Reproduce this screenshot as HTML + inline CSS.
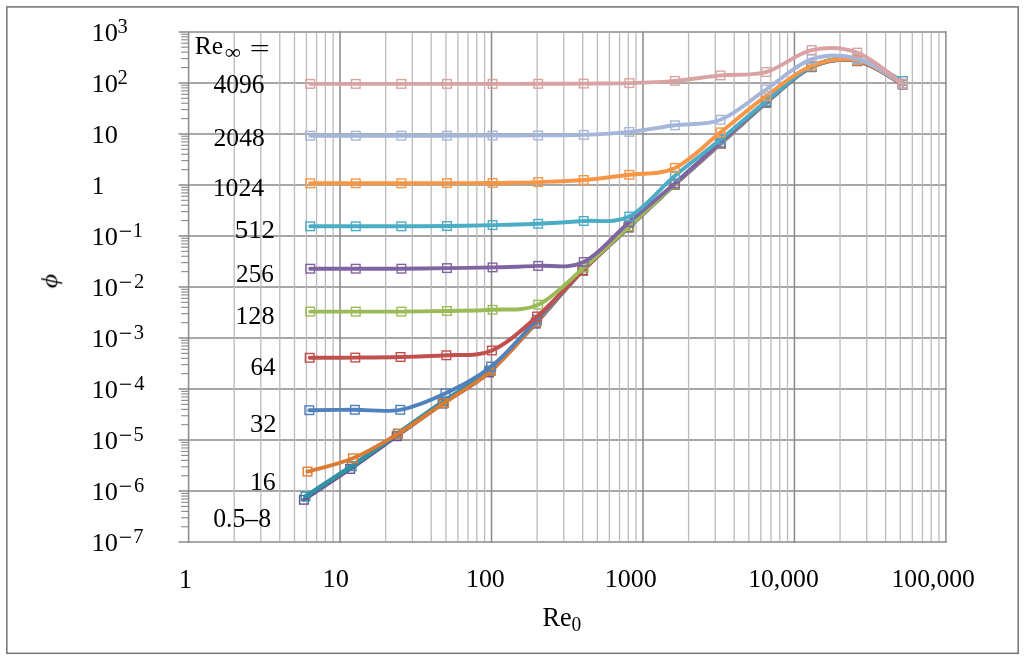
<!DOCTYPE html>
<html><head><meta charset="utf-8"><style>
html,body{margin:0;padding:0;background:#fff;}
body{width:1024px;height:661px;overflow:hidden;}
svg{display:block;}
text{font-family:"Liberation Serif",serif;font-size:100px;fill:#000;}
</style></head><body>
<svg width="1024" height="661" viewBox="0 0 1024 661">
<rect x="0" y="0" width="1024" height="661" fill="#fff"/>
<rect x="6.8" y="6.9" width="1011.4" height="646.4" fill="none" stroke="#7a7a7a" stroke-width="1.6"/>
<line x1="178.60" y1="542.10" x2="946.50" y2="542.10" stroke="#8a8a8a" stroke-width="1.5"/>
<line x1="178.60" y1="491.08" x2="946.50" y2="491.08" stroke="#8a8a8a" stroke-width="1.5"/>
<line x1="178.60" y1="440.06" x2="946.50" y2="440.06" stroke="#8a8a8a" stroke-width="1.5"/>
<line x1="178.60" y1="389.04" x2="946.50" y2="389.04" stroke="#8a8a8a" stroke-width="1.5"/>
<line x1="178.60" y1="338.02" x2="946.50" y2="338.02" stroke="#8a8a8a" stroke-width="1.5"/>
<line x1="178.60" y1="287.00" x2="946.50" y2="287.00" stroke="#8a8a8a" stroke-width="1.5"/>
<line x1="178.60" y1="235.98" x2="946.50" y2="235.98" stroke="#8a8a8a" stroke-width="1.5"/>
<line x1="178.60" y1="184.96" x2="946.50" y2="184.96" stroke="#8a8a8a" stroke-width="1.5"/>
<line x1="178.60" y1="133.94" x2="946.50" y2="133.94" stroke="#8a8a8a" stroke-width="1.5"/>
<line x1="178.60" y1="82.92" x2="946.50" y2="82.92" stroke="#8a8a8a" stroke-width="1.5"/>
<line x1="178.60" y1="31.90" x2="946.50" y2="31.90" stroke="#8a8a8a" stroke-width="1.5"/>
<line x1="234.19" y1="32.65" x2="234.19" y2="541.35" stroke="#bbbbbb" stroke-width="1.3"/>
<line x1="260.86" y1="32.65" x2="260.86" y2="541.35" stroke="#bbbbbb" stroke-width="1.3"/>
<line x1="279.79" y1="32.65" x2="279.79" y2="541.35" stroke="#bbbbbb" stroke-width="1.3"/>
<line x1="294.47" y1="32.65" x2="294.47" y2="541.35" stroke="#bbbbbb" stroke-width="1.3"/>
<line x1="306.46" y1="32.65" x2="306.46" y2="541.35" stroke="#bbbbbb" stroke-width="1.3"/>
<line x1="316.60" y1="32.65" x2="316.60" y2="541.35" stroke="#bbbbbb" stroke-width="1.3"/>
<line x1="325.38" y1="32.65" x2="325.38" y2="541.35" stroke="#bbbbbb" stroke-width="1.3"/>
<line x1="333.13" y1="32.65" x2="333.13" y2="541.35" stroke="#bbbbbb" stroke-width="1.3"/>
<line x1="385.65" y1="32.65" x2="385.65" y2="541.35" stroke="#bbbbbb" stroke-width="1.3"/>
<line x1="412.32" y1="32.65" x2="412.32" y2="541.35" stroke="#bbbbbb" stroke-width="1.3"/>
<line x1="431.25" y1="32.65" x2="431.25" y2="541.35" stroke="#bbbbbb" stroke-width="1.3"/>
<line x1="445.93" y1="32.65" x2="445.93" y2="541.35" stroke="#bbbbbb" stroke-width="1.3"/>
<line x1="457.92" y1="32.65" x2="457.92" y2="541.35" stroke="#bbbbbb" stroke-width="1.3"/>
<line x1="468.06" y1="32.65" x2="468.06" y2="541.35" stroke="#bbbbbb" stroke-width="1.3"/>
<line x1="476.84" y1="32.65" x2="476.84" y2="541.35" stroke="#bbbbbb" stroke-width="1.3"/>
<line x1="484.59" y1="32.65" x2="484.59" y2="541.35" stroke="#bbbbbb" stroke-width="1.3"/>
<line x1="537.11" y1="32.65" x2="537.11" y2="541.35" stroke="#bbbbbb" stroke-width="1.3"/>
<line x1="563.78" y1="32.65" x2="563.78" y2="541.35" stroke="#bbbbbb" stroke-width="1.3"/>
<line x1="582.71" y1="32.65" x2="582.71" y2="541.35" stroke="#bbbbbb" stroke-width="1.3"/>
<line x1="597.39" y1="32.65" x2="597.39" y2="541.35" stroke="#bbbbbb" stroke-width="1.3"/>
<line x1="609.38" y1="32.65" x2="609.38" y2="541.35" stroke="#bbbbbb" stroke-width="1.3"/>
<line x1="619.52" y1="32.65" x2="619.52" y2="541.35" stroke="#bbbbbb" stroke-width="1.3"/>
<line x1="628.30" y1="32.65" x2="628.30" y2="541.35" stroke="#bbbbbb" stroke-width="1.3"/>
<line x1="636.05" y1="32.65" x2="636.05" y2="541.35" stroke="#bbbbbb" stroke-width="1.3"/>
<line x1="688.57" y1="32.65" x2="688.57" y2="541.35" stroke="#bbbbbb" stroke-width="1.3"/>
<line x1="715.24" y1="32.65" x2="715.24" y2="541.35" stroke="#bbbbbb" stroke-width="1.3"/>
<line x1="734.17" y1="32.65" x2="734.17" y2="541.35" stroke="#bbbbbb" stroke-width="1.3"/>
<line x1="748.85" y1="32.65" x2="748.85" y2="541.35" stroke="#bbbbbb" stroke-width="1.3"/>
<line x1="760.84" y1="32.65" x2="760.84" y2="541.35" stroke="#bbbbbb" stroke-width="1.3"/>
<line x1="770.98" y1="32.65" x2="770.98" y2="541.35" stroke="#bbbbbb" stroke-width="1.3"/>
<line x1="779.76" y1="32.65" x2="779.76" y2="541.35" stroke="#bbbbbb" stroke-width="1.3"/>
<line x1="787.51" y1="32.65" x2="787.51" y2="541.35" stroke="#bbbbbb" stroke-width="1.3"/>
<line x1="840.03" y1="32.65" x2="840.03" y2="541.35" stroke="#bbbbbb" stroke-width="1.3"/>
<line x1="866.70" y1="32.65" x2="866.70" y2="541.35" stroke="#bbbbbb" stroke-width="1.3"/>
<line x1="885.63" y1="32.65" x2="885.63" y2="541.35" stroke="#bbbbbb" stroke-width="1.3"/>
<line x1="900.31" y1="32.65" x2="900.31" y2="541.35" stroke="#bbbbbb" stroke-width="1.3"/>
<line x1="912.30" y1="32.65" x2="912.30" y2="541.35" stroke="#bbbbbb" stroke-width="1.3"/>
<line x1="922.44" y1="32.65" x2="922.44" y2="541.35" stroke="#bbbbbb" stroke-width="1.3"/>
<line x1="931.22" y1="32.65" x2="931.22" y2="541.35" stroke="#bbbbbb" stroke-width="1.3"/>
<line x1="938.97" y1="32.65" x2="938.97" y2="541.35" stroke="#bbbbbb" stroke-width="1.3"/>
<line x1="181.10" y1="526.74" x2="188.60" y2="526.74" stroke="#8a8a8a" stroke-width="1.1"/>
<line x1="181.10" y1="517.76" x2="188.60" y2="517.76" stroke="#8a8a8a" stroke-width="1.1"/>
<line x1="181.10" y1="511.38" x2="188.60" y2="511.38" stroke="#8a8a8a" stroke-width="1.1"/>
<line x1="181.10" y1="506.44" x2="188.60" y2="506.44" stroke="#8a8a8a" stroke-width="1.1"/>
<line x1="181.10" y1="502.40" x2="188.60" y2="502.40" stroke="#8a8a8a" stroke-width="1.1"/>
<line x1="181.10" y1="498.98" x2="188.60" y2="498.98" stroke="#8a8a8a" stroke-width="1.1"/>
<line x1="181.10" y1="496.02" x2="188.60" y2="496.02" stroke="#8a8a8a" stroke-width="1.1"/>
<line x1="181.10" y1="493.41" x2="188.60" y2="493.41" stroke="#8a8a8a" stroke-width="1.1"/>
<line x1="181.10" y1="475.72" x2="188.60" y2="475.72" stroke="#8a8a8a" stroke-width="1.1"/>
<line x1="181.10" y1="466.74" x2="188.60" y2="466.74" stroke="#8a8a8a" stroke-width="1.1"/>
<line x1="181.10" y1="460.36" x2="188.60" y2="460.36" stroke="#8a8a8a" stroke-width="1.1"/>
<line x1="181.10" y1="455.42" x2="188.60" y2="455.42" stroke="#8a8a8a" stroke-width="1.1"/>
<line x1="181.10" y1="451.38" x2="188.60" y2="451.38" stroke="#8a8a8a" stroke-width="1.1"/>
<line x1="181.10" y1="447.96" x2="188.60" y2="447.96" stroke="#8a8a8a" stroke-width="1.1"/>
<line x1="181.10" y1="445.00" x2="188.60" y2="445.00" stroke="#8a8a8a" stroke-width="1.1"/>
<line x1="181.10" y1="442.39" x2="188.60" y2="442.39" stroke="#8a8a8a" stroke-width="1.1"/>
<line x1="181.10" y1="424.70" x2="188.60" y2="424.70" stroke="#8a8a8a" stroke-width="1.1"/>
<line x1="181.10" y1="415.72" x2="188.60" y2="415.72" stroke="#8a8a8a" stroke-width="1.1"/>
<line x1="181.10" y1="409.34" x2="188.60" y2="409.34" stroke="#8a8a8a" stroke-width="1.1"/>
<line x1="181.10" y1="404.40" x2="188.60" y2="404.40" stroke="#8a8a8a" stroke-width="1.1"/>
<line x1="181.10" y1="400.36" x2="188.60" y2="400.36" stroke="#8a8a8a" stroke-width="1.1"/>
<line x1="181.10" y1="396.94" x2="188.60" y2="396.94" stroke="#8a8a8a" stroke-width="1.1"/>
<line x1="181.10" y1="393.98" x2="188.60" y2="393.98" stroke="#8a8a8a" stroke-width="1.1"/>
<line x1="181.10" y1="391.37" x2="188.60" y2="391.37" stroke="#8a8a8a" stroke-width="1.1"/>
<line x1="181.10" y1="373.68" x2="188.60" y2="373.68" stroke="#8a8a8a" stroke-width="1.1"/>
<line x1="181.10" y1="364.70" x2="188.60" y2="364.70" stroke="#8a8a8a" stroke-width="1.1"/>
<line x1="181.10" y1="358.32" x2="188.60" y2="358.32" stroke="#8a8a8a" stroke-width="1.1"/>
<line x1="181.10" y1="353.38" x2="188.60" y2="353.38" stroke="#8a8a8a" stroke-width="1.1"/>
<line x1="181.10" y1="349.34" x2="188.60" y2="349.34" stroke="#8a8a8a" stroke-width="1.1"/>
<line x1="181.10" y1="345.92" x2="188.60" y2="345.92" stroke="#8a8a8a" stroke-width="1.1"/>
<line x1="181.10" y1="342.96" x2="188.60" y2="342.96" stroke="#8a8a8a" stroke-width="1.1"/>
<line x1="181.10" y1="340.35" x2="188.60" y2="340.35" stroke="#8a8a8a" stroke-width="1.1"/>
<line x1="181.10" y1="322.66" x2="188.60" y2="322.66" stroke="#8a8a8a" stroke-width="1.1"/>
<line x1="181.10" y1="313.68" x2="188.60" y2="313.68" stroke="#8a8a8a" stroke-width="1.1"/>
<line x1="181.10" y1="307.30" x2="188.60" y2="307.30" stroke="#8a8a8a" stroke-width="1.1"/>
<line x1="181.10" y1="302.36" x2="188.60" y2="302.36" stroke="#8a8a8a" stroke-width="1.1"/>
<line x1="181.10" y1="298.32" x2="188.60" y2="298.32" stroke="#8a8a8a" stroke-width="1.1"/>
<line x1="181.10" y1="294.90" x2="188.60" y2="294.90" stroke="#8a8a8a" stroke-width="1.1"/>
<line x1="181.10" y1="291.94" x2="188.60" y2="291.94" stroke="#8a8a8a" stroke-width="1.1"/>
<line x1="181.10" y1="289.33" x2="188.60" y2="289.33" stroke="#8a8a8a" stroke-width="1.1"/>
<line x1="181.10" y1="271.64" x2="188.60" y2="271.64" stroke="#8a8a8a" stroke-width="1.1"/>
<line x1="181.10" y1="262.66" x2="188.60" y2="262.66" stroke="#8a8a8a" stroke-width="1.1"/>
<line x1="181.10" y1="256.28" x2="188.60" y2="256.28" stroke="#8a8a8a" stroke-width="1.1"/>
<line x1="181.10" y1="251.34" x2="188.60" y2="251.34" stroke="#8a8a8a" stroke-width="1.1"/>
<line x1="181.10" y1="247.30" x2="188.60" y2="247.30" stroke="#8a8a8a" stroke-width="1.1"/>
<line x1="181.10" y1="243.88" x2="188.60" y2="243.88" stroke="#8a8a8a" stroke-width="1.1"/>
<line x1="181.10" y1="240.92" x2="188.60" y2="240.92" stroke="#8a8a8a" stroke-width="1.1"/>
<line x1="181.10" y1="238.31" x2="188.60" y2="238.31" stroke="#8a8a8a" stroke-width="1.1"/>
<line x1="181.10" y1="220.62" x2="188.60" y2="220.62" stroke="#8a8a8a" stroke-width="1.1"/>
<line x1="181.10" y1="211.64" x2="188.60" y2="211.64" stroke="#8a8a8a" stroke-width="1.1"/>
<line x1="181.10" y1="205.26" x2="188.60" y2="205.26" stroke="#8a8a8a" stroke-width="1.1"/>
<line x1="181.10" y1="200.32" x2="188.60" y2="200.32" stroke="#8a8a8a" stroke-width="1.1"/>
<line x1="181.10" y1="196.28" x2="188.60" y2="196.28" stroke="#8a8a8a" stroke-width="1.1"/>
<line x1="181.10" y1="192.86" x2="188.60" y2="192.86" stroke="#8a8a8a" stroke-width="1.1"/>
<line x1="181.10" y1="189.90" x2="188.60" y2="189.90" stroke="#8a8a8a" stroke-width="1.1"/>
<line x1="181.10" y1="187.29" x2="188.60" y2="187.29" stroke="#8a8a8a" stroke-width="1.1"/>
<line x1="181.10" y1="169.60" x2="188.60" y2="169.60" stroke="#8a8a8a" stroke-width="1.1"/>
<line x1="181.10" y1="160.62" x2="188.60" y2="160.62" stroke="#8a8a8a" stroke-width="1.1"/>
<line x1="181.10" y1="154.24" x2="188.60" y2="154.24" stroke="#8a8a8a" stroke-width="1.1"/>
<line x1="181.10" y1="149.30" x2="188.60" y2="149.30" stroke="#8a8a8a" stroke-width="1.1"/>
<line x1="181.10" y1="145.26" x2="188.60" y2="145.26" stroke="#8a8a8a" stroke-width="1.1"/>
<line x1="181.10" y1="141.84" x2="188.60" y2="141.84" stroke="#8a8a8a" stroke-width="1.1"/>
<line x1="181.10" y1="138.88" x2="188.60" y2="138.88" stroke="#8a8a8a" stroke-width="1.1"/>
<line x1="181.10" y1="136.27" x2="188.60" y2="136.27" stroke="#8a8a8a" stroke-width="1.1"/>
<line x1="181.10" y1="118.58" x2="188.60" y2="118.58" stroke="#8a8a8a" stroke-width="1.1"/>
<line x1="181.10" y1="109.60" x2="188.60" y2="109.60" stroke="#8a8a8a" stroke-width="1.1"/>
<line x1="181.10" y1="103.22" x2="188.60" y2="103.22" stroke="#8a8a8a" stroke-width="1.1"/>
<line x1="181.10" y1="98.28" x2="188.60" y2="98.28" stroke="#8a8a8a" stroke-width="1.1"/>
<line x1="181.10" y1="94.24" x2="188.60" y2="94.24" stroke="#8a8a8a" stroke-width="1.1"/>
<line x1="181.10" y1="90.82" x2="188.60" y2="90.82" stroke="#8a8a8a" stroke-width="1.1"/>
<line x1="181.10" y1="87.86" x2="188.60" y2="87.86" stroke="#8a8a8a" stroke-width="1.1"/>
<line x1="181.10" y1="85.25" x2="188.60" y2="85.25" stroke="#8a8a8a" stroke-width="1.1"/>
<line x1="181.10" y1="67.56" x2="188.60" y2="67.56" stroke="#8a8a8a" stroke-width="1.1"/>
<line x1="181.10" y1="58.58" x2="188.60" y2="58.58" stroke="#8a8a8a" stroke-width="1.1"/>
<line x1="181.10" y1="52.20" x2="188.60" y2="52.20" stroke="#8a8a8a" stroke-width="1.1"/>
<line x1="181.10" y1="47.26" x2="188.60" y2="47.26" stroke="#8a8a8a" stroke-width="1.1"/>
<line x1="181.10" y1="43.22" x2="188.60" y2="43.22" stroke="#8a8a8a" stroke-width="1.1"/>
<line x1="181.10" y1="39.80" x2="188.60" y2="39.80" stroke="#8a8a8a" stroke-width="1.1"/>
<line x1="181.10" y1="36.84" x2="188.60" y2="36.84" stroke="#8a8a8a" stroke-width="1.1"/>
<line x1="181.10" y1="34.23" x2="188.60" y2="34.23" stroke="#8a8a8a" stroke-width="1.1"/>
<line x1="188.60" y1="31.20" x2="188.60" y2="542.80" stroke="#8a8a8a" stroke-width="1.5"/>
<line x1="340.06" y1="31.20" x2="340.06" y2="542.80" stroke="#8a8a8a" stroke-width="1.5"/>
<line x1="491.52" y1="31.20" x2="491.52" y2="542.80" stroke="#8a8a8a" stroke-width="1.5"/>
<line x1="642.98" y1="31.20" x2="642.98" y2="542.80" stroke="#8a8a8a" stroke-width="1.5"/>
<line x1="794.44" y1="31.20" x2="794.44" y2="542.80" stroke="#8a8a8a" stroke-width="1.5"/>
<line x1="945.90" y1="31.20" x2="945.90" y2="542.80" stroke="#8a8a8a" stroke-width="1.5"/>
<path d="M303.90,499.80 C311.61,494.67 334.73,479.60 350.19,469.00 C365.65,458.40 381.27,447.10 396.68,436.20 C412.09,425.30 427.29,414.23 442.67,403.60 C458.05,392.97 473.46,385.73 488.96,372.40 C504.46,359.07 520.05,340.50 535.65,323.60 C551.25,306.70 567.03,287.00 582.54,271.00 C598.05,255.00 613.38,241.97 628.73,227.60 C644.08,213.23 659.32,198.75 674.62,184.80 C689.92,170.85 705.26,157.53 720.51,143.90 C735.76,130.27 750.90,115.78 766.10,103.00 C781.30,90.22 796.49,74.17 811.69,67.20 C826.89,60.23 842.08,58.30 857.28,61.20 C872.48,64.10 895.27,80.70 902.87,84.60" fill="none" stroke="#6a4f8e" stroke-width="3.9" stroke-linecap="round" stroke-linejoin="round"/>
<g fill="none" stroke="#6a4f8e" stroke-width="1.4"><rect x="299.60" y="495.50" width="8.6" height="8.6"/><rect x="345.89" y="464.70" width="8.6" height="8.6"/><rect x="392.38" y="431.90" width="8.6" height="8.6"/><rect x="438.37" y="399.30" width="8.6" height="8.6"/><rect x="484.66" y="368.10" width="8.6" height="8.6"/><rect x="531.35" y="319.30" width="8.6" height="8.6"/><rect x="578.24" y="266.70" width="8.6" height="8.6"/><rect x="624.43" y="223.30" width="8.6" height="8.6"/><rect x="670.32" y="180.50" width="8.6" height="8.6"/><rect x="716.21" y="139.60" width="8.6" height="8.6"/><rect x="761.80" y="98.70" width="8.6" height="8.6"/><rect x="807.39" y="62.90" width="8.6" height="8.6"/><rect x="852.98" y="56.90" width="8.6" height="8.6"/><rect x="898.57" y="80.30" width="8.6" height="8.6"/></g>
<path d="M305.50,496.40 C313.20,491.37 336.29,476.67 351.69,466.20 C367.09,455.73 382.57,444.40 397.88,433.60 C413.19,422.80 428.29,411.90 443.57,401.40 C458.85,390.90 474.16,383.77 489.56,370.60 C504.96,357.43 520.45,339.13 535.95,322.40 C551.45,305.67 567.08,286.10 582.54,270.20 C598.00,254.30 613.38,241.33 628.73,227.00 C644.08,212.67 659.32,198.15 674.62,184.20 C689.92,170.25 705.26,156.93 720.51,143.30 C735.76,129.67 750.90,115.18 766.10,102.40 C781.30,89.62 796.49,73.57 811.69,66.60 C826.89,59.63 842.08,57.70 857.28,60.60 C872.48,63.50 895.27,80.10 902.87,84.00" fill="none" stroke="#3391a6" stroke-width="4.6" stroke-linecap="round" stroke-linejoin="round"/>
<g fill="none" stroke="#3391a6" stroke-width="1.4"><rect x="301.20" y="492.10" width="8.6" height="8.6"/><rect x="347.39" y="461.90" width="8.6" height="8.6"/><rect x="393.58" y="429.30" width="8.6" height="8.6"/><rect x="439.27" y="397.10" width="8.6" height="8.6"/><rect x="485.26" y="366.30" width="8.6" height="8.6"/><rect x="531.65" y="318.10" width="8.6" height="8.6"/><rect x="578.24" y="265.90" width="8.6" height="8.6"/><rect x="624.43" y="222.70" width="8.6" height="8.6"/><rect x="670.32" y="179.90" width="8.6" height="8.6"/><rect x="716.21" y="139.00" width="8.6" height="8.6"/><rect x="761.80" y="98.10" width="8.6" height="8.6"/><rect x="807.39" y="62.30" width="8.6" height="8.6"/><rect x="852.98" y="56.30" width="8.6" height="8.6"/><rect x="898.57" y="79.70" width="8.6" height="8.6"/></g>
<path d="M307.50,471.60 C315.08,469.38 337.91,464.58 352.99,458.30 C368.07,452.02 382.82,443.12 397.98,433.90 C413.14,424.68 428.47,413.50 443.97,403.00 C459.47,392.50 475.53,384.42 490.96,370.90 C506.39,357.38 521.25,338.65 536.55,321.90 C551.85,305.15 567.38,286.22 582.74,270.40 C598.10,254.58 613.42,241.35 628.73,227.00 C644.04,212.65 659.32,198.23 674.62,184.30 C689.92,170.37 705.26,157.05 720.51,143.40 C735.76,129.75 750.90,115.20 766.10,102.40 C781.30,89.60 796.49,73.57 811.69,66.60 C826.89,59.63 842.08,57.70 857.28,60.60 C872.48,63.50 895.27,80.10 902.87,84.00" fill="none" stroke="#dc7b33" stroke-width="3.9" stroke-linecap="round" stroke-linejoin="round"/>
<g fill="none" stroke="#dc7b33" stroke-width="1.4"><rect x="303.20" y="467.30" width="8.6" height="8.6"/><rect x="348.69" y="454.00" width="8.6" height="8.6"/><rect x="393.68" y="429.60" width="8.6" height="8.6"/><rect x="439.67" y="398.70" width="8.6" height="8.6"/><rect x="486.66" y="366.60" width="8.6" height="8.6"/><rect x="532.25" y="317.60" width="8.6" height="8.6"/><rect x="578.44" y="266.10" width="8.6" height="8.6"/><rect x="624.43" y="222.70" width="8.6" height="8.6"/><rect x="670.32" y="180.00" width="8.6" height="8.6"/><rect x="716.21" y="139.10" width="8.6" height="8.6"/><rect x="761.80" y="98.10" width="8.6" height="8.6"/><rect x="807.39" y="62.30" width="8.6" height="8.6"/><rect x="852.98" y="56.30" width="8.6" height="8.6"/><rect x="898.57" y="79.70" width="8.6" height="8.6"/></g>
<path d="M309.30,410.20 C316.90,410.13 339.74,409.87 354.89,409.80 C370.04,409.73 385.08,412.55 400.18,409.80 C415.28,407.05 430.31,400.50 445.47,393.30 C460.63,386.10 475.91,378.87 491.16,366.60 C506.41,354.33 521.65,335.73 536.95,319.70 C552.25,303.67 567.63,285.85 582.94,270.40 C598.25,254.95 613.53,241.35 628.83,227.00 C644.13,212.65 659.44,198.23 674.72,184.30 C690.00,170.37 705.28,157.05 720.51,143.40 C735.74,129.75 750.90,115.20 766.10,102.40 C781.30,89.60 796.49,73.57 811.69,66.60 C826.89,59.63 842.08,57.70 857.28,60.60 C872.48,63.50 895.27,80.10 902.87,84.00" fill="none" stroke="#4f81bd" stroke-width="3.9" stroke-linecap="round" stroke-linejoin="round"/>
<g fill="none" stroke="#4f81bd" stroke-width="1.4"><rect x="305.00" y="405.90" width="8.6" height="8.6"/><rect x="350.59" y="405.50" width="8.6" height="8.6"/><rect x="395.88" y="405.50" width="8.6" height="8.6"/><rect x="441.17" y="389.00" width="8.6" height="8.6"/><rect x="486.86" y="362.30" width="8.6" height="8.6"/><rect x="532.65" y="315.40" width="8.6" height="8.6"/><rect x="578.64" y="266.10" width="8.6" height="8.6"/><rect x="624.53" y="222.70" width="8.6" height="8.6"/><rect x="670.42" y="180.00" width="8.6" height="8.6"/><rect x="716.21" y="139.10" width="8.6" height="8.6"/><rect x="761.80" y="98.10" width="8.6" height="8.6"/><rect x="807.39" y="62.30" width="8.6" height="8.6"/><rect x="852.98" y="56.30" width="8.6" height="8.6"/><rect x="898.57" y="79.70" width="8.6" height="8.6"/></g>
<path d="M309.70,357.80 C317.30,357.77 340.14,357.73 355.29,357.60 C370.44,357.47 385.40,357.38 400.58,357.00 C415.76,356.62 431.14,356.38 446.37,355.30 C461.60,354.22 476.85,356.97 491.96,350.50 C507.07,344.03 521.89,329.82 537.05,316.50 C552.21,303.18 567.63,285.55 582.94,270.60 C598.25,255.65 613.60,241.18 628.93,226.80 C644.26,212.42 659.66,198.20 674.92,184.30 C690.18,170.40 705.31,157.05 720.51,143.40 C735.71,129.75 750.90,115.20 766.10,102.40 C781.30,89.60 796.49,73.57 811.69,66.60 C826.89,59.63 842.08,57.70 857.28,60.60 C872.48,63.50 895.27,80.10 902.87,84.00" fill="none" stroke="#c0504d" stroke-width="3.9" stroke-linecap="round" stroke-linejoin="round"/>
<g fill="none" stroke="#c0504d" stroke-width="1.4"><rect x="305.40" y="353.50" width="8.6" height="8.6"/><rect x="350.99" y="353.30" width="8.6" height="8.6"/><rect x="396.28" y="352.70" width="8.6" height="8.6"/><rect x="442.07" y="351.00" width="8.6" height="8.6"/><rect x="487.66" y="346.20" width="8.6" height="8.6"/><rect x="532.75" y="312.20" width="8.6" height="8.6"/><rect x="578.64" y="266.30" width="8.6" height="8.6"/><rect x="624.63" y="222.50" width="8.6" height="8.6"/><rect x="670.62" y="180.00" width="8.6" height="8.6"/><rect x="716.21" y="139.10" width="8.6" height="8.6"/><rect x="761.80" y="98.10" width="8.6" height="8.6"/><rect x="807.39" y="62.30" width="8.6" height="8.6"/><rect x="852.98" y="56.30" width="8.6" height="8.6"/><rect x="898.57" y="79.70" width="8.6" height="8.6"/></g>
<path d="M310.20,311.60 C317.80,311.60 340.59,311.60 355.79,311.60 C370.99,311.60 386.18,311.70 401.38,311.60 C416.58,311.50 431.77,311.30 446.97,311.00 C462.17,310.70 477.36,310.85 492.56,309.80 C507.76,308.75 522.95,311.70 538.15,304.70 C553.35,297.70 568.54,280.88 583.74,267.80 C598.94,254.72 614.13,240.13 629.33,226.20 C644.53,212.27 659.72,198.00 674.92,184.20 C690.12,170.40 705.31,157.03 720.51,143.40 C735.71,129.77 750.90,115.20 766.10,102.40 C781.30,89.60 796.49,73.57 811.69,66.60 C826.89,59.63 842.08,57.70 857.28,60.60 C872.48,63.50 895.27,80.10 902.87,84.00" fill="none" stroke="#9bbb59" stroke-width="3.9" stroke-linecap="round" stroke-linejoin="round"/>
<g fill="none" stroke="#9bbb59" stroke-width="1.4"><rect x="305.90" y="307.30" width="8.6" height="8.6"/><rect x="351.49" y="307.30" width="8.6" height="8.6"/><rect x="397.08" y="307.30" width="8.6" height="8.6"/><rect x="442.67" y="306.70" width="8.6" height="8.6"/><rect x="488.26" y="305.50" width="8.6" height="8.6"/><rect x="533.85" y="300.40" width="8.6" height="8.6"/><rect x="579.44" y="263.50" width="8.6" height="8.6"/><rect x="625.03" y="221.90" width="8.6" height="8.6"/><rect x="670.62" y="179.90" width="8.6" height="8.6"/><rect x="716.21" y="139.10" width="8.6" height="8.6"/><rect x="761.80" y="98.10" width="8.6" height="8.6"/><rect x="807.39" y="62.30" width="8.6" height="8.6"/><rect x="852.98" y="56.30" width="8.6" height="8.6"/><rect x="898.57" y="79.70" width="8.6" height="8.6"/></g>
<path d="M310.20,268.70 C317.80,268.70 340.59,268.70 355.79,268.70 C370.99,268.70 386.18,268.80 401.38,268.70 C416.58,268.60 431.77,268.32 446.97,268.10 C462.17,267.88 477.36,267.77 492.56,267.40 C507.76,267.03 522.95,266.80 538.15,265.90 C553.35,265.00 568.54,269.32 583.74,262.00 C598.94,254.68 614.13,235.10 629.33,222.00 C644.53,208.90 659.72,196.62 674.92,183.40 C690.12,170.18 705.31,156.23 720.51,142.70 C735.71,129.17 750.90,114.88 766.10,102.20 C781.30,89.52 796.49,73.53 811.69,66.60 C826.89,59.67 842.08,57.70 857.28,60.60 C872.48,63.50 895.27,80.10 902.87,84.00" fill="none" stroke="#8064a2" stroke-width="3.9" stroke-linecap="round" stroke-linejoin="round"/>
<g fill="none" stroke="#8064a2" stroke-width="1.4"><rect x="305.90" y="264.40" width="8.6" height="8.6"/><rect x="351.49" y="264.40" width="8.6" height="8.6"/><rect x="397.08" y="264.40" width="8.6" height="8.6"/><rect x="442.67" y="263.80" width="8.6" height="8.6"/><rect x="488.26" y="263.10" width="8.6" height="8.6"/><rect x="533.85" y="261.60" width="8.6" height="8.6"/><rect x="579.44" y="257.70" width="8.6" height="8.6"/><rect x="625.03" y="217.70" width="8.6" height="8.6"/><rect x="670.62" y="179.10" width="8.6" height="8.6"/><rect x="716.21" y="138.40" width="8.6" height="8.6"/><rect x="761.80" y="97.90" width="8.6" height="8.6"/><rect x="807.39" y="62.30" width="8.6" height="8.6"/><rect x="852.98" y="56.30" width="8.6" height="8.6"/><rect x="898.57" y="79.70" width="8.6" height="8.6"/></g>
<path d="M310.20,226.30 C317.80,226.30 340.59,226.30 355.79,226.30 C370.99,226.30 386.18,226.35 401.38,226.30 C416.58,226.25 431.77,226.20 446.97,226.00 C462.17,225.80 477.36,225.47 492.56,225.10 C507.76,224.73 522.95,224.48 538.15,223.80 C553.35,223.12 568.54,222.22 583.74,221.00 C598.94,219.78 614.13,224.03 629.33,216.50 C644.53,208.97 659.72,188.62 674.92,175.80 C690.12,162.98 705.31,152.03 720.51,139.60 C735.71,127.17 750.90,113.43 766.10,101.20 C781.30,88.97 796.49,73.20 811.69,66.20 C826.89,59.20 842.08,56.73 857.28,59.20 C872.48,61.67 895.27,77.37 902.87,81.00" fill="none" stroke="#4bacc6" stroke-width="3.9" stroke-linecap="round" stroke-linejoin="round"/>
<g fill="none" stroke="#4bacc6" stroke-width="1.4"><rect x="305.90" y="222.00" width="8.6" height="8.6"/><rect x="351.49" y="222.00" width="8.6" height="8.6"/><rect x="397.08" y="222.00" width="8.6" height="8.6"/><rect x="442.67" y="221.70" width="8.6" height="8.6"/><rect x="488.26" y="220.80" width="8.6" height="8.6"/><rect x="533.85" y="219.50" width="8.6" height="8.6"/><rect x="579.44" y="216.70" width="8.6" height="8.6"/><rect x="625.03" y="212.20" width="8.6" height="8.6"/><rect x="670.62" y="171.50" width="8.6" height="8.6"/><rect x="716.21" y="135.30" width="8.6" height="8.6"/><rect x="761.80" y="96.90" width="8.6" height="8.6"/><rect x="807.39" y="61.90" width="8.6" height="8.6"/><rect x="852.98" y="54.90" width="8.6" height="8.6"/><rect x="898.57" y="76.70" width="8.6" height="8.6"/></g>
<path d="M310.20,183.30 C317.80,183.30 340.59,183.30 355.79,183.30 C370.99,183.30 386.18,183.33 401.38,183.30 C416.58,183.27 431.77,183.15 446.97,183.10 C462.17,183.05 477.36,183.17 492.56,183.00 C507.76,182.83 522.95,182.60 538.15,182.10 C553.35,181.60 568.54,181.22 583.74,180.00 C598.94,178.78 614.13,176.82 629.33,174.80 C644.53,172.78 659.72,174.97 674.92,167.90 C690.12,160.83 705.31,144.38 720.51,132.40 C735.71,120.42 750.90,107.10 766.10,96.00 C781.30,84.90 796.49,71.77 811.69,65.80 C826.89,59.83 842.08,57.17 857.28,60.20 C872.48,63.23 895.27,80.03 902.87,84.00" fill="none" stroke="#f79646" stroke-width="3.9" stroke-linecap="round" stroke-linejoin="round"/>
<g fill="none" stroke="#f79646" stroke-width="1.4"><rect x="305.90" y="179.00" width="8.6" height="8.6"/><rect x="351.49" y="179.00" width="8.6" height="8.6"/><rect x="397.08" y="179.00" width="8.6" height="8.6"/><rect x="442.67" y="178.80" width="8.6" height="8.6"/><rect x="488.26" y="178.70" width="8.6" height="8.6"/><rect x="533.85" y="177.80" width="8.6" height="8.6"/><rect x="579.44" y="175.70" width="8.6" height="8.6"/><rect x="625.03" y="170.50" width="8.6" height="8.6"/><rect x="670.62" y="163.60" width="8.6" height="8.6"/><rect x="716.21" y="128.10" width="8.6" height="8.6"/><rect x="761.80" y="91.70" width="8.6" height="8.6"/><rect x="807.39" y="61.50" width="8.6" height="8.6"/><rect x="852.98" y="55.90" width="8.6" height="8.6"/><rect x="898.57" y="79.70" width="8.6" height="8.6"/></g>
<path d="M310.20,135.70 C317.80,135.70 340.59,135.70 355.79,135.70 C370.99,135.70 386.18,135.70 401.38,135.70 C416.58,135.70 431.77,135.72 446.97,135.70 C462.17,135.68 477.36,135.65 492.56,135.60 C507.76,135.55 522.95,135.52 538.15,135.40 C553.35,135.28 568.54,135.48 583.74,134.90 C598.94,134.32 614.13,133.50 629.33,131.90 C644.53,130.30 659.72,127.32 674.92,125.30 C690.12,123.28 705.31,125.77 720.51,119.80 C735.71,113.83 750.90,99.60 766.10,89.50 C781.30,79.40 796.49,64.35 811.69,59.20 C826.89,54.05 842.08,54.52 857.28,58.60 C872.48,62.68 895.27,79.52 902.87,83.70" fill="none" stroke="#a6b6da" stroke-width="3.9" stroke-linecap="round" stroke-linejoin="round"/>
<g fill="none" stroke="#a6b6da" stroke-width="1.4"><rect x="305.90" y="131.40" width="8.6" height="8.6"/><rect x="351.49" y="131.40" width="8.6" height="8.6"/><rect x="397.08" y="131.40" width="8.6" height="8.6"/><rect x="442.67" y="131.40" width="8.6" height="8.6"/><rect x="488.26" y="131.30" width="8.6" height="8.6"/><rect x="533.85" y="131.10" width="8.6" height="8.6"/><rect x="579.44" y="130.60" width="8.6" height="8.6"/><rect x="625.03" y="127.60" width="8.6" height="8.6"/><rect x="670.62" y="121.00" width="8.6" height="8.6"/><rect x="716.21" y="115.50" width="8.6" height="8.6"/><rect x="761.80" y="85.20" width="8.6" height="8.6"/><rect x="807.39" y="54.90" width="8.6" height="8.6"/><rect x="852.98" y="54.30" width="8.6" height="8.6"/><rect x="898.57" y="79.40" width="8.6" height="8.6"/></g>
<path d="M310.20,83.90 C317.80,83.90 340.59,83.90 355.79,83.90 C370.99,83.90 386.18,83.90 401.38,83.90 C416.58,83.90 431.77,83.90 446.97,83.90 C462.17,83.90 477.36,83.92 492.56,83.90 C507.76,83.88 522.95,83.85 538.15,83.80 C553.35,83.75 568.54,83.72 583.74,83.60 C598.94,83.48 614.13,83.55 629.33,83.10 C644.53,82.65 659.72,82.18 674.92,80.90 C690.12,79.62 705.31,76.88 720.51,75.40 C735.71,73.92 750.90,76.22 766.10,72.00 C781.30,67.78 796.49,53.33 811.69,50.10 C826.89,46.87 842.08,46.98 857.28,52.60 C872.48,58.22 895.27,78.60 902.87,83.80" fill="none" stroke="#d9a3a3" stroke-width="3.9" stroke-linecap="round" stroke-linejoin="round"/>
<g fill="none" stroke="#d9a3a3" stroke-width="1.4"><rect x="305.90" y="79.60" width="8.6" height="8.6"/><rect x="351.49" y="79.60" width="8.6" height="8.6"/><rect x="397.08" y="79.60" width="8.6" height="8.6"/><rect x="442.67" y="79.60" width="8.6" height="8.6"/><rect x="488.26" y="79.60" width="8.6" height="8.6"/><rect x="533.85" y="79.50" width="8.6" height="8.6"/><rect x="579.44" y="79.30" width="8.6" height="8.6"/><rect x="625.03" y="78.80" width="8.6" height="8.6"/><rect x="670.62" y="76.60" width="8.6" height="8.6"/><rect x="716.21" y="71.10" width="8.6" height="8.6"/><rect x="761.80" y="67.70" width="8.6" height="8.6"/><rect x="807.39" y="45.80" width="8.6" height="8.6"/><rect x="852.98" y="48.30" width="8.6" height="8.6"/><rect x="898.57" y="79.50" width="8.6" height="8.6"/></g>
<g opacity="0.999">
<text transform="matrix(0.2632,0,0,0.2544,91.53,41.09)">10</text>
<text transform="matrix(0.2050,0,0,0.2050,117.38,32.62)">3</text>
<text transform="matrix(0.2632,0,0,0.2544,91.53,92.11)">10</text>
<text transform="matrix(0.2050,0,0,0.2050,117.58,83.65)">2</text>
<text transform="matrix(0.2632,0,0,0.2544,91.53,143.13)">10</text>
<text transform="matrix(0.2486,0,0,0.2576,91.66,194.46)">1</text>
<text transform="matrix(0.2632,0,0,0.2544,91.53,245.17)">10</text>
<text transform="matrix(0.2404,0,0,0.2400,118.70,239.32)">−</text>
<text transform="matrix(0.2050,0,0,0.2050,132.86,236.91)">1</text>
<text transform="matrix(0.2632,0,0,0.2544,91.53,296.19)">10</text>
<text transform="matrix(0.2404,0,0,0.2400,118.70,290.34)">−</text>
<text transform="matrix(0.2050,0,0,0.2050,133.88,287.72)">2</text>
<text transform="matrix(0.2632,0,0,0.2544,91.53,347.21)">10</text>
<text transform="matrix(0.2404,0,0,0.2400,118.70,341.36)">−</text>
<text transform="matrix(0.2050,0,0,0.2050,133.68,338.74)">3</text>
<text transform="matrix(0.2632,0,0,0.2544,91.53,398.23)">10</text>
<text transform="matrix(0.2404,0,0,0.2400,118.70,392.38)">−</text>
<text transform="matrix(0.2050,0,0,0.2050,134.29,389.76)">4</text>
<text transform="matrix(0.2632,0,0,0.2544,91.53,449.25)">10</text>
<text transform="matrix(0.2404,0,0,0.2400,118.70,443.40)">−</text>
<text transform="matrix(0.2050,0,0,0.2050,133.47,440.78)">5</text>
<text transform="matrix(0.2632,0,0,0.2544,91.53,500.27)">10</text>
<text transform="matrix(0.2404,0,0,0.2400,118.70,494.42)">−</text>
<text transform="matrix(0.2050,0,0,0.2050,133.88,491.80)">6</text>
<text transform="matrix(0.2632,0,0,0.2544,91.53,551.29)">10</text>
<text transform="matrix(0.2404,0,0,0.2400,118.70,545.44)">−</text>
<text transform="matrix(0.2050,0,0,0.2050,133.27,542.83)">7</text>
<text transform="matrix(0.2571,0,0,0.2636,178.99,587.50)">1</text>
<text transform="matrix(0.2644,0,0,0.2574,322.52,586.99)">10</text>
<text transform="matrix(0.2591,0,0,0.2574,465.97,586.99)">100</text>
<text transform="matrix(0.2604,0,0,0.2588,604.76,587.08)">1000</text>
<text transform="matrix(0.2569,0,0,0.2559,748.19,586.99)">10,000</text>
<text transform="matrix(0.2567,0,0,0.2588,891.49,587.18)">100,000</text>
<text transform="matrix(0.2544,0,0,0.2627,213.59,92.97)">4096</text>
<text transform="matrix(0.2557,0,0,0.2582,213.58,145.98)">2048</text>
<text transform="matrix(0.2577,0,0,0.2559,212.68,196.09)">1024</text>
<text transform="matrix(0.2696,0,0,0.2597,234.68,238.34)">512</text>
<text transform="matrix(0.2524,0,0,0.2597,236.09,282.28)">256</text>
<text transform="matrix(0.2620,0,0,0.2603,235.24,324.28)">128</text>
<text transform="matrix(0.2500,0,0,0.2612,250.50,374.78)">64</text>
<text transform="matrix(0.2663,0,0,0.2606,249.97,432.34)">32</text>
<text transform="matrix(0.2580,0,0,0.2588,249.98,489.78)">16</text>
<text transform="matrix(0.2576,0,0,0.2642,213.17,527.07)">0.5–8</text>
<text transform="matrix(0.2562,0,0,0.2515,194.73,54.15)">Re</text>
<text transform="matrix(0.2302,0,0,0.2079,224.38,59.38)">∞</text>
<text transform="matrix(0.3532,0,0,0.2360,249.63,55.66)">=</text>
<text transform="matrix(0.2619,0,0,0.2652,542.51,626.33)">Re</text>
<text transform="matrix(0.1952,0,0,0.2000,571.42,631.10)">0</text>
<text transform="matrix(0,-0.2787,0.2400,0,57.56,288.26)" font-style="italic">ϕ</text>
</g>
</svg>
</body></html>
